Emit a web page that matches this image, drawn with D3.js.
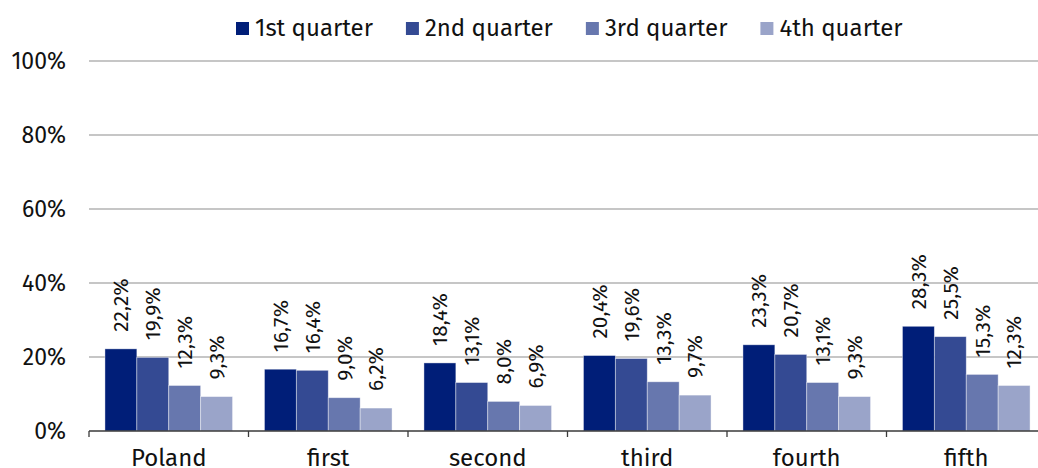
<!DOCTYPE html>
<html>
<head>
<meta charset="utf-8">
<script src="https://cdnjs.cloudflare.com/ajax/libs/d3/7.8.5/d3.min.js"></script>
<style>
  body { margin: 0; background: #fff; }
  svg { display: block; font-family: "Fira Sans", "Noto Sans", sans-serif; }
</style>
</head>
<body>
<svg class="chart" width="1038" height="468"></svg>
<script>
const categories = ["Poland", "first", "second", "third", "fourth", "fifth"];
const seriesNames = ["1st quarter", "2nd quarter", "3rd quarter", "4th quarter"];
const q1 = [22.2, 16.7, 18.4, 20.4, 23.3, 28.3];
const q2 = [19.9, 16.4, 13.1, 19.6, 20.7, 25.5];
const q3 = [12.3, 9.0, 8.0, 13.3, 13.1, 15.3];
const q4 = [9.3, 6.2, 6.9, 9.7, 9.3, 12.3];
const yTicks = [0, 20, 40, 60, 80, 100];
const colors = ["#001e78", "#344a93", "#6777ae", "#9aa4c9"];

const series = [q1, q2, q3, q4];

const margin = {top: 61, left: 89, bottom: 37};
const plotW = 957;  // runs slightly past the right edge, like the original
const plotH = 468 - margin.top - margin.bottom;

const svg = d3.select('svg.chart');

const x0 = d3.scaleBand()
  .domain(categories)
  .range([margin.left, margin.left + plotW])
  .paddingInner(0.2)
  .paddingOuter(0.1);

const x1 = d3.scaleBand()
  .domain(d3.range(series.length))
  .range([0, x0.bandwidth()]);

const y = d3.scaleLinear()
  .domain([0, 100])
  .range([margin.top + plotH, margin.top]);

// gridlines
svg.append('g')
  .selectAll('line')
  .data(yTicks.filter(d => d > 0))
  .enter()
  .append('line')
  .attr('x1', margin.left)
  .attr('x2', margin.left + plotW)
  .attr('y1', d => y(d))
  .attr('y2', d => y(d))
  .style('stroke', '#b3b3b3')
  .style('stroke-width', 1.3);

// y labels
svg.append('g')
  .selectAll('text')
  .data(yTicks)
  .enter()
  .append('text')
  .attr('x', 66)
  .attr('y', d => y(d))
  .attr('dy', '0.36em')
  .attr('text-anchor', 'end')
  .style('font-size', '23px')
  .style('fill', '#111')
  .text(d => d + '%');

// bars
const groups = svg.append('g')
  .selectAll('g.cat')
  .data(categories)
  .enter()
  .append('g')
  .attr('class', 'cat')
  .attr('transform', d => `translate(${x0(d)},0)`);

const cells = groups.selectAll('g.bar')
  .data((d, ci) => series.map((s, si) => ({si: si, v: s[ci]})))
  .enter()
  .append('g')
  .attr('class', 'bar');

cells.append('rect')
  .attr('x', d => x1(d.si))
  .attr('y', d => y(d.v))
  .attr('width', x1.bandwidth())
  .attr('height', d => y(0) - y(d.v))
  .style('fill', d => colors[d.si])
  .style('stroke', '#fff')
  .style('stroke-opacity', 0.5)
  .style('stroke-width', 0.8);

cells.append('text')
  .attr('transform', d => `translate(${x1(d.si) + x1.bandwidth() / 2}, ${y(d.v) - 17}) rotate(-90)`)
  .attr('dy', '0.35em')
  .style('font-size', '21px')
  .style('fill', '#111')
  .text(d => d.v.toFixed(1).replace('.', ',') + '%');

// x axis
const xAxis = svg.append('g');
xAxis.append('line')
  .attr('x1', margin.left)
  .attr('x2', margin.left + plotW)
  .attr('y1', y(0))
  .attr('y2', y(0))
  .style('stroke', '#3a3a3a')
  .style('stroke-width', 1.3);

const bounds = categories.map(c => x0(c) - x0.step() * x0.paddingInner() / 2);
bounds.push(margin.left + plotW);
xAxis.selectAll('line.tick')
  .data(bounds)
  .enter()
  .append('line')
  .attr('class', 'tick')
  .attr('x1', d => d)
  .attr('x2', d => d)
  .attr('y1', y(0))
  .attr('y2', y(0) + 6)
  .style('stroke', '#3a3a3a')
  .style('stroke-width', 1.3);

xAxis.selectAll('text')
  .data(categories)
  .enter()
  .append('text')
  .attr('x', d => x0(d) + x0.bandwidth() / 2)
  .attr('y', 466)
  .attr('text-anchor', 'middle')
  .style('font-size', '24px')
  .style('fill', '#111')
  .text(d => d);

// legend
const legend = svg.append('g').attr('transform', 'translate(236, 0)');
let lx = 0;
seriesNames.forEach((name, i) => {
  const item = legend.append('g').attr('transform', `translate(${lx}, 0)`);
  item.append('rect')
    .attr('x', 0).attr('y', 22)
    .attr('width', 13).attr('height', 13)
    .style('fill', colors[i]);
  const t = item.append('text')
    .attr('x', 19).attr('y', 36)
    .style('font-size', '24px')
    .style('fill', '#111')
    .text(name);
  lx += 19 + t.node().getComputedTextLength() + 33;
});
</script>
</body>
</html>
